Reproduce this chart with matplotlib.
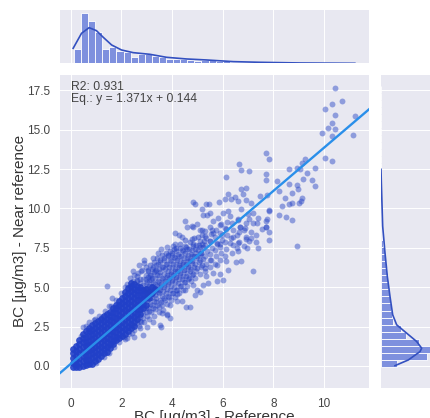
# coding: utf-8
import numpy as np
import matplotlib
matplotlib.use("Agg")
import matplotlib.pyplot as plt

plt.rcParams['font.family'] = ['Liberation Sans', 'DejaVu Sans']

# scattered points
sparse_x = [10.43,10.33,10.72,10.04,10.43,11.24,10.33,10.15,10.43,9.93,10.33,11.13,10.04,10.33,7.72,7.83,6.63,6.71,7.02,6.13,
            7.72,7.72,8.63,8.92,9.05,9.13,9.24,9.64,9.32,9.18,9.54,8.63,8.13,8.92,9.64,8.23,8.99,8.72,9.13,9.09,
            9.02,8.45,8.33,8.63,8.74,8.23,8.52,8.74,7.83,7.72,7.72,7.83,8.92,
            4.83,4.91,5.34,5.44,5.2,5.49,5.23,5.39,4.52,4.6,4.12,4.28,5.86,6.09,6.22,6.32,6.48,6.71,6.9,6.79,6.61,
            6.92,7.11,6.71,7.18,7.01,6.22,6.02,5.62,5.82,6.28,6.61,7.21,7.4,7.83,7.47,7.73,7.73,7.71,7.83,7.31,
            6.88,6.68,6.09,5.89,5.56,5.1,4.83,4.41,4.77,5.3,5.62,5.96,6.42,6.65,7.1,6.92,6.61,6.28,5.89,5.49,
            5.17,4.83,4.51,4.11,7.4,6.94,6.55,
            4.77,4.99,5.17,3.58,3.78,4.04,4.31,3.45,3.25,2.9,2.79,2.44,2.6,2.33,
            2.44,2.62,2.79,2.73,3.02,3.25,3.52,3.78,3.91,3.58,2.83,2.49,2.2,
            1.41,1.61,0.79,1.51,0.49,0.4,0.72,1.21,0.91,
            7.21,6.22,6.52,6.71,6.13,6.0,5.76,5.89,5.62,5.34,5.43,5.23,5.1,4.9,4.83,4.7,4.53,4.41,4.18,4.18,
            3.91,3.62,3.62,3.78,4.51,4.97,5.3,5.76,5.49,5.1,5.76]
sparse_y = [17.64,16.62,16.8,16.28,15.94,15.88,15.39,15.1,15.01,14.76,14.6,14.69,13.18,13.04,13.5,13.16,12.8,12.42,12.38,12.0,
            12.17,11.78,12.48,12.59,12.53,12.87,13.16,12.59,12.23,11.89,11.83,11.57,11.74,11.49,11.4,11.1,11.21,10.96,10.68,10.47,
            10.32,10.64,10.17,10.25,10.32,9.6,9.47,9.26,9.83,9.19,8.83,8.49,7.64,
            10.4,10.3,10.25,10.25,9.94,9.72,9.55,9.6,9.19,8.83,8.45,8.34,10.4,10.57,10.89,10.62,10.72,11.21,11.32,10.89,10.47,
            10.53,10.36,9.98,9.72,9.62,9.83,9.72,9.19,9.41,9.51,9.3,9.09,9.41,9.87,10.78,10.83,9.3,8.83,7.98,7.85,
            8.77,8.83,8.77,8.92,8.66,8.66,8.83,8.2,8.07,8.24,8.45,8.34,8.2,8.49,8.13,8.03,7.81,7.81,7.71,7.92,
            7.71,7.6,7.6,7.71,7.5,7.5,7.5,
            8.87,8.98,8.66,7.43,7.56,7.64,7.5,7.18,6.86,6.54,6.01,5.37,5.48,4.95,
            2.61,2.93,2.82,2.4,2.46,2.76,2.61,3.25,3.04,2.5,1.97,1.83,1.76,
            5.1,4.31,3.46,3.78,2.5,1.91,2.76,3.1,2.93,
            6.01,6.11,6.6,6.69,6.64,5.48,5.41,5.84,5.9,5.69,5.27,5.16,4.69,4.48,5.16,3.76,3.71,4.14,4.1,4.57,
            3.84,3.84,3.36,3.29,4.84,4.84,6.22,6.43,6.75,7.07,7.81]

# medium density part of the band
mid_x = [3.08,3.12,3.05,3.14,3.1,3.07,3.13,3.06,3.11,
         3.24,3.28,3.22,3.3,3.26,3.2,3.27,3.23,3.29,
         3.41,3.37,3.44,3.39,3.46,3.42,3.36,3.45,3.4,
         3.55,3.6,3.52,3.58,3.62,3.54,3.59,3.53,3.61,
         3.7,3.75,3.68,3.73,3.78,3.71,3.76,3.69,3.74,
         3.86,3.91,3.84,3.89,3.94,3.87,3.92,3.85,3.9,
         4.02,4.07,4.0,4.05,4.1,4.03,4.08,4.01,4.06,
         4.18,4.23,4.16,4.21,4.26,4.19,4.24,4.17,
         4.34,4.39,4.32,4.37,4.42,4.35,4.4,4.33,
         4.5,4.55,4.48,4.53,4.58,4.51,4.56,4.49,
         4.66,4.71,4.64,4.69,4.74,4.67,4.72,
         4.82,4.87,4.8,4.85,4.9,4.83,4.88,
         5.0,5.05,4.98,5.03,5.08,5.01,
         5.18,5.23,5.16,5.21,5.26,5.19]
mid_y = [3.5,3.95,4.4,4.75,5.1,5.45,5.8,6.1,6.4,
         3.7,4.15,4.55,4.9,5.25,5.6,5.95,6.3,6.6,
         3.9,4.3,4.7,5.05,5.4,5.75,6.1,6.5,6.85,
         4.05,4.45,4.85,5.2,5.6,5.95,6.3,6.7,7.05,
         4.2,4.6,5.0,5.4,5.75,6.15,6.5,6.85,7.2,
         4.4,4.8,5.2,5.6,5.95,6.3,6.7,7.05,7.3,
         4.6,5.0,5.4,5.75,6.15,6.5,6.9,7.2,7.45,
         4.85,5.25,5.65,6.0,6.4,6.75,7.1,7.5,
         5.1,5.5,5.9,6.25,6.6,7.0,7.35,7.75,
         5.35,5.7,6.1,6.45,6.85,7.2,7.55,8.0,
         5.6,6.0,6.35,6.75,7.1,7.45,7.85,
         5.85,6.25,6.65,7.0,7.4,7.75,8.1,
         6.2,6.6,7.0,7.35,7.7,8.2,
         6.4,6.8,7.15,7.55,7.95,8.3]

# second pass over the band, fringes and the gaps of the first one
fill_x = [2.2,2.35,2.5,2.65,2.8,2.95,2.45,2.7,2.9,2.6,2.1,2.3,2.5,2.7,2.9,3.1,3.3,3.5,
          0.6,0.95,1.1,1.35,1.6,1.8,2.0,2.15,1.0,1.3,1.5,1.7,1.9,2.15,2.4,
          2.62,2.62,2.74,2.74,2.74,2.74,2.86,2.86,2.86,2.86,2.98,2.98,2.98,2.98,2.98,2.98,
          3.0,3.03,3.01,3.04,3.02,3.0,3.05,3.03,
          3.16,3.19,3.15,3.2,3.17,3.18,3.16,3.21,
          3.32,3.35,3.31,3.36,3.33,3.34,3.32,3.37,
          3.48,3.51,3.47,3.52,3.49,3.5,3.48,3.53,
          3.64,3.67,3.63,3.68,3.65,3.66,3.64,3.69,
          3.8,3.83,3.79,3.84,3.81,3.82,3.8,3.85,
          3.96,3.99,3.95,4.0,3.97,3.98,3.96,4.01,
          4.12,4.15,4.11,4.16,4.13,4.14,4.12,4.17,
          4.28,4.31,4.27,4.32,4.29,4.3,4.28,
          4.44,4.47,4.43,4.48,4.45,4.46,4.44,
          4.6,4.63,4.59,4.64,4.61,4.62,4.6,
          4.76,4.79,4.75,4.8,4.77,4.78,
          4.92,4.95,4.91,4.96,4.93,4.94,
          5.1,5.13,5.09,5.14,5.11,5.12,
          5.3,5.34,5.28,5.36,5.31,5.35,5.29,
          5.5,5.54,5.48,5.56,5.51,5.55,5.49,
          5.7,5.74,5.68,5.76,5.71,5.75,
          5.9,5.94,5.88,5.96,5.91,5.95,
          6.1,6.14,6.08,6.16,6.11,6.15,
          6.35,6.4,6.33,6.42,6.36,
          6.6,6.65,6.58,6.67,6.61,
          6.85,6.9,6.83,6.92,7.05,7.1,7.03,7.3,7.35,7.55]
fill_y = [5.2,5.6,5.75,5.9,6.1,6.3,6.05,6.4,6.7,5.7,1.85,2.05,2.3,2.55,2.8,3.0,3.2,3.4,
          2.55,2.95,3.2,3.5,3.8,4.2,4.6,5.0,0.2,0.55,0.85,1.2,1.5,1.7,2.1,
          2.7,5.4,2.85,3.1,5.25,5.55,3.05,3.35,5.15,5.5,3.4,3.7,4.9,5.2,5.5,5.8,
          3.2,3.65,4.15,4.55,4.95,5.3,5.65,6.0,
          3.4,3.85,4.3,4.7,5.1,5.45,5.8,6.15,
          3.6,4.05,4.5,4.85,5.2,5.6,6.0,6.4,
          3.75,4.2,4.6,5.0,5.35,5.75,6.15,6.6,
          3.55,4.3,4.75,5.15,5.5,5.85,6.25,6.75,
          3.95,4.45,4.9,5.3,5.65,6.05,6.45,6.95,
          4.2,4.65,5.1,5.45,5.85,6.25,6.65,7.05,
          4.4,4.85,5.3,5.65,6.05,6.45,6.85,7.3,
          4.65,5.1,5.5,5.85,6.25,6.65,7.0,
          4.85,5.3,5.7,6.1,6.45,6.85,7.3,
          5.1,5.5,5.9,6.3,6.65,7.05,7.45,
          5.4,5.8,6.15,6.55,6.95,7.35,
          5.6,6.05,6.45,6.85,7.2,7.65,
          5.85,6.3,6.7,7.15,7.55,7.95,
          6.05,6.5,6.95,7.3,7.7,8.1,8.55,
          6.25,6.7,7.1,7.5,7.9,8.35,8.8,
          6.5,6.95,7.35,7.75,8.2,8.65,
          6.7,7.15,7.55,8.0,8.45,9.0,
          7.0,7.4,7.85,8.3,8.7,9.15,
          7.2,7.7,8.15,8.6,9.05,
          7.3,7.85,8.3,8.8,9.25,
          7.6,8.2,8.65,9.1,7.9,8.5,9.3,8.3,9.05,8.7]

# solid part of the band, one list of y per x column
core_x = [0.10,0.22,0.34,0.46,0.58,0.70,0.82,0.94,1.06,1.18,1.30,1.42,1.54,1.66,1.78,1.90,
          2.02,2.14,2.26,2.38,2.50,2.62,2.74,2.86,2.98,3.10,3.22,3.34]
core_y = [[-0.05,0.2,0.5,0.8,1.05],
          [-0.05,0.1,0.35,0.65,0.95,1.25],
          [-0.05,0.2,0.5,0.8,1.1,1.4,1.65],
          [0.0,0.3,0.6,0.9,1.2,1.5,1.8,2.0],
          [0.05,0.35,0.65,0.95,1.25,1.55,1.85,2.2],
          [0.1,0.4,0.7,1.0,1.3,1.6,1.9,2.2,2.4],
          [0.15,0.5,0.8,1.1,1.4,1.7,2.0,2.3,2.6],
          [0.3,0.6,0.9,1.2,1.5,1.8,2.1,2.4,2.7],
          [0.45,0.75,1.05,1.35,1.65,1.95,2.25,2.55,2.85],
          [0.6,0.9,1.2,1.5,1.8,2.1,2.4,2.7,3.0],
          [0.8,1.05,1.35,1.65,1.95,2.25,2.55,2.85,3.15],
          [0.9,1.2,1.5,1.8,2.1,2.4,2.7,3.0,3.3],
          [1.15,1.4,1.7,2.0,2.3,2.6,2.9,3.2,3.45],
          [1.4,1.6,1.9,2.2,2.5,2.8,3.1,3.4,3.65],
          [1.65,1.85,2.15,2.45,2.75,3.05,3.35,3.65,3.9],
          [1.8,2.05,2.35,2.65,2.95,3.25,3.55,3.85,4.1],
          [1.9,2.2,2.5,2.8,3.1,3.4,3.7,4.0,4.3],
          [2.05,2.35,2.65,2.95,3.25,3.55,3.85,4.15,4.45,4.7],
          [2.2,2.5,2.8,3.1,3.4,3.7,4.0,4.3,4.6,4.95],
          [2.4,2.65,2.95,3.25,3.55,3.85,4.15,4.45,4.75,5.05,5.25],
          [2.55,2.8,3.1,3.4,3.7,4.0,4.3,4.6,4.9,5.2],
          [3.0,3.3,3.6,3.9,4.2,4.5,4.8,5.1],
          [3.3,3.6,3.9,4.2,4.5,4.8,5.0],
          [3.65,3.95,4.25,4.55,4.85],
          [3.9,4.3,4.6,4.9],
          [4.3,4.7],
          [4.6,5.0],
          [4.9]]

# regression line ends
line_x = [-0.43, 11.78]
line_y = [-0.45, 16.29]

# top histogram
top_counts = [172,600,512,380,172,196,152,132,72,112,112,92,80,48,56,56,40,28,40,36,
              28,24,20,16,16,16,12,8,8,8,6,6,4,4,4,3,3,2,2,2]
top_start = 0.12
top_width = 0.28
top_kde_x = [0.09,0.42,0.72,1.01,1.28,1.61,2.0,2.46,3.12,3.78,4.57,5.36,6.42,7.47,9.05,11.22]
top_kde_y = [180,360,428,392,312,220,160,128,108,72,52,40,20,12,4,0]

# right histogram
right_counts = [190,550,588,456,300,236,148,132,116,108,96,88,80,76,60,52,44,28,16,12,
                8,6,4,4,3,3,2,2,2,1,1,1,1,1,1,1,1,1,1,1]
right_start = -0.05
right_width = 0.446
right_kde_y = [0.02,0.38,0.91,1.13,1.55,2.08,2.61,3.25,4.41,5.69,7.18,8.87,11.64,12.48]
right_kde_x = [168,328,468,488,428,308,188,140,108,76,48,20,4,0]

x_ticks = [0,2,4,6,8,10]
y_ticks = [0.0,2.5,5.0,7.5,10.0,12.5,15.0,17.5]

W, H = 431, 418
bg = "#E8E8F1"
blue = "#2240C4"
hist_col = "#7E90DE"
kde_col = "#3350C0"
text_col = "#444444"

fig = plt.figure(figsize=(W/100, H/100), dpi=100)

def box(left, top, right, bottom):
    return [left/W, 1-bottom/H, (right-left)/W, (bottom-top)/H]

ax = fig.add_axes(box(60, 74.5, 369, 388))
ax_top = fig.add_axes(box(60, 10, 369, 63.3))
ax_right = fig.add_axes(box(381, 74.5, 434, 388))

for a in [ax, ax_top, ax_right]:
    a.set_facecolor(bg)
    a.grid(True, color="white", linewidth=0.7)
    a.set_axisbelow(True)
    for s in a.spines.values():
        s.set_visible(False)
    a.tick_params(length=0)

# main scatter
cx = np.repeat(core_x, [len(c) for c in core_y])
cy = np.concatenate(core_y)
ax.scatter(cx, cy, s=24, color="#2140C8", alpha=0.9, linewidths=0)
ax.scatter(mid_x, mid_y, s=18, color=blue, alpha=0.5, linewidths=0)
ax.scatter(fill_x, fill_y, s=18, color=blue, alpha=0.45, linewidths=0)
ax.scatter(sparse_x, sparse_y, s=18, color=blue, alpha=0.45, linewidths=0)
ax.plot(line_x, line_y, color="#2A8FEA", linewidth=1.7)
ax.set_xlim(-0.43, 11.78)
ax.set_ylim(-1.4, 18.5)
ax.set_xticks(x_ticks)
ax.set_yticks(y_ticks)
ax.tick_params(labelsize=8.5, labelcolor=text_col, pad=7)
ax.set_xlabel("BC [µg/m3] - Reference", fontsize=11, color="#333333", labelpad=0)
ax.set_ylabel("BC [µg/m3] - Near reference", fontsize=11, color="#333333", labelpad=0)
ax.text(0.035, 0.98, "R2: 0.931\nEq.: y = 1.371x + 0.144", transform=ax.transAxes,
        fontsize=8.7, color=text_col, va="top", linespacing=1.05)

# top histogram
top_x = top_start + top_width*np.arange(len(top_counts))
ax_top.bar(top_x, top_counts, width=top_width, align="edge", color=hist_col, edgecolor="white", linewidth=0.6)
ax_top.plot(top_kde_x, top_kde_y, color=kde_col, linewidth=1.2)
ax_top.set_xlim(-0.43, 11.78)
ax_top.set_ylim(0, 640)
ax_top.set_xticks(x_ticks)
ax_top.set_yticks([])
ax_top.tick_params(labelbottom=False)

# right histogram
right_y = right_start + right_width*np.arange(len(right_counts))
ax_right.barh(right_y, right_counts, height=right_width, align="edge", color=hist_col, edgecolor="white", linewidth=0.6)
ax_right.plot(right_kde_x, right_kde_y, color=kde_col, linewidth=1.2)
ax_right.set_ylim(-1.4, 18.5)
ax_right.set_xlim(0, 636)
ax_right.set_yticks(y_ticks)
ax_right.set_xticks([])
ax_right.tick_params(labelleft=False)

fig.savefig("out.png", dpi=100)
